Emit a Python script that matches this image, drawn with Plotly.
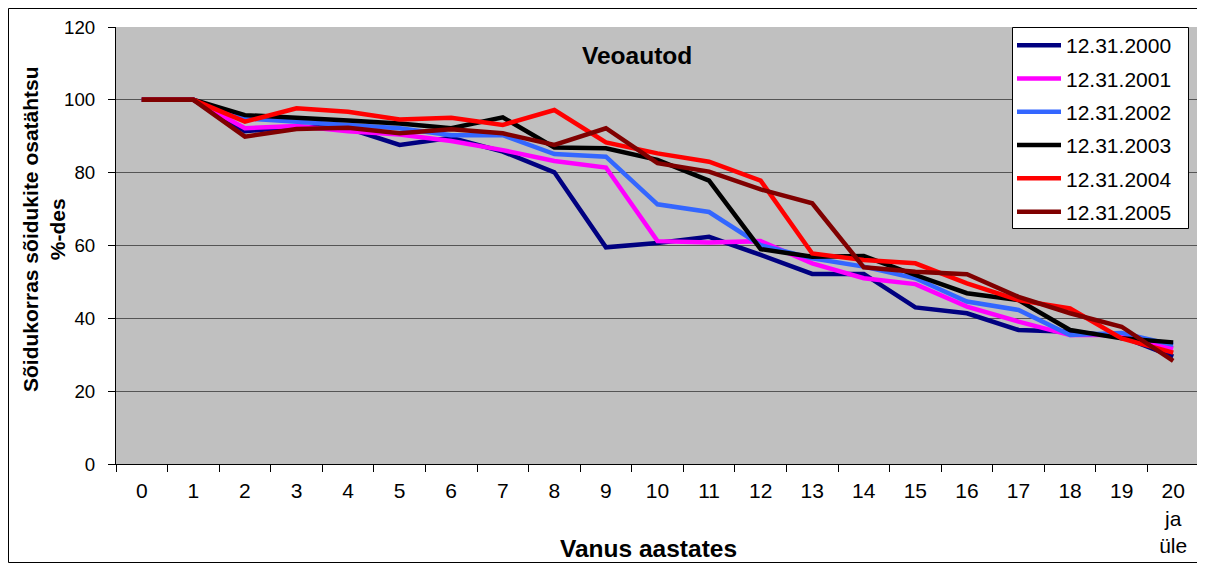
import plotly.graph_objects as go

ages = [str(i) for i in range(20)] + ["20<br>ja<br>üle"]
series_names = ["12.31.2000", "12.31.2001", "12.31.2002", "12.31.2003", "12.31.2004", "12.31.2005"]
s2000 = [100, 100, 91.4, 92.6, 92.2, 87.6, 89.6, 85.8, 80.1, 59.5, 60.7, 62.4, 57.4, 52.2, 52.2, 43.0, 41.4, 36.8, 36.3, 35.0, 29.5]
s2001 = [100, 100, 92.2, 92.8, 91.4, 90.5, 88.7, 86.2, 83.2, 81.4, 61.2, 60.8, 61.2, 55.1, 51.0, 49.4, 43.2, 39.1, 35.4, 35.4, 31.8]
s2002 = [100, 100, 94.9, 94.0, 93.1, 92.2, 90.3, 90.3, 85.1, 84.4, 71.3, 69.2, 60.1, 56.5, 54.2, 51.0, 44.6, 42.3, 35.4, 36.0, 32.7]
s2003 = [100, 100, 95.8, 94.9, 94.3, 93.5, 92.2, 95.2, 86.9, 86.7, 83.5, 77.8, 59.0, 56.9, 57.1, 51.9, 46.9, 45.0, 36.8, 34.5, 33.4]
s2004 = [100, 100, 94.0, 97.7, 96.7, 94.6, 95.1, 93.1, 97.2, 88.3, 85.3, 83.0, 77.8, 57.8, 56.0, 55.1, 49.6, 45.0, 42.7, 34.5, 30.6]
s2005 = [100, 100, 89.9, 92.0, 92.3, 90.8, 91.9, 90.8, 87.6, 92.2, 82.6, 80.3, 75.4, 71.6, 54.0, 52.8, 52.1, 45.9, 41.4, 37.7, 28.3]
all_series = [s2000, s2001, s2002, s2003, s2004, s2005]
colors = ["#000080", "#FF00FF", "#3366FF", "#000000", "#FF0000", "#800000"]

FONT = "Arial, Liberation Sans, sans-serif"

# page body has an 8px margin; figure sized so that it fills the window
OFF = 8
FW, FH = 1205 - OFF, 564 - OFF
# plot area in screen pixels
PX0, PX1, PY0, PY1 = 116, 1199, 27, 464
L, R, T, B = PX0 - OFF, FW - (PX1 - OFF), PY0 - OFF, FH - (PY1 - OFF)
W, H = PX1 - PX0, PY1 - PY0


def px(xs):
    return (xs - PX0) / W


def py(ys):
    return (PY1 - ys) / H


fig = go.Figure()
for name, vals, col in zip(series_names, all_series, colors):
    fig.add_trace(go.Scatter(x=ages, y=vals, name=name, mode="lines", legendgroup=name,
                             line=dict(color=col, width=4.5)))

fig.update_layout(
    width=FW, height=FH,
    margin=dict(l=L, r=R, t=T, b=B, autoexpand=False),
    paper_bgcolor="white",
    plot_bgcolor="#C0C0C0",
    font=dict(family=FONT, size=20, color="black"),
    showlegend=True,
    legend=dict(x=px(1012), y=py(25), xanchor="left", yanchor="top",
                bgcolor="rgba(0,0,0,0)", borderwidth=0,
                font=dict(size=21), tracegroupgap=3, itemwidth=44),
    xaxis=dict(type="category", tickson="boundaries", ticks="outside", ticklen=7,
               tickcolor="black", showline=True, linecolor="black", linewidth=1,
               showgrid=False, zeroline=False, range=[-0.5, 20.5],
               tickfont=dict(size=21), ticklabelstandoff=8),
    yaxis=dict(range=[0, 120], tickvals=[0, 20, 40, 60, 80, 100, 120],
               ticks="outside", ticklen=7, tickcolor="black",
               showline=True, linecolor="black", linewidth=1,
               showgrid=True, gridcolor="#555555", gridwidth=1,
               zeroline=False, tickfont=dict(size=18.7), ticklabelstandoff=9),
    annotations=[
        dict(text="<b>Veoautod</b>", x=px(637), y=py(55),
             xref="paper", yref="paper", showarrow=False,
             font=dict(size=24.5), xanchor="center", yanchor="middle"),
        dict(text="<b>Vanus aastates</b>", x=px(648), y=py(548),
             xref="paper", yref="paper", showarrow=False,
             font=dict(size=24.5), xanchor="center", yanchor="middle"),
        dict(text="<b>Sõidukorras sõidukite osatähtsu<br>%-des</b>",
             x=px(44), y=py(229), textangle=-90,
             xref="paper", yref="paper", showarrow=False,
             font=dict(size=21), xanchor="center", yanchor="middle"),
    ],
    shapes=[
        dict(type="rect", xref="paper", yref="paper",
             x0=px(8.5), x1=px(1203.5), y0=py(562.5), y1=py(8.5),
             line=dict(color="black", width=1), fillcolor="rgba(0,0,0,0)", layer="below"),
        dict(type="rect", xref="paper", yref="paper",
             x0=px(1012.5), x1=px(1188.5), y0=py(228.5), y1=py(27.5),
             line=dict(color="black", width=1), fillcolor="white", layer="above"),
    ],
)

fig.write_html("out.html")
